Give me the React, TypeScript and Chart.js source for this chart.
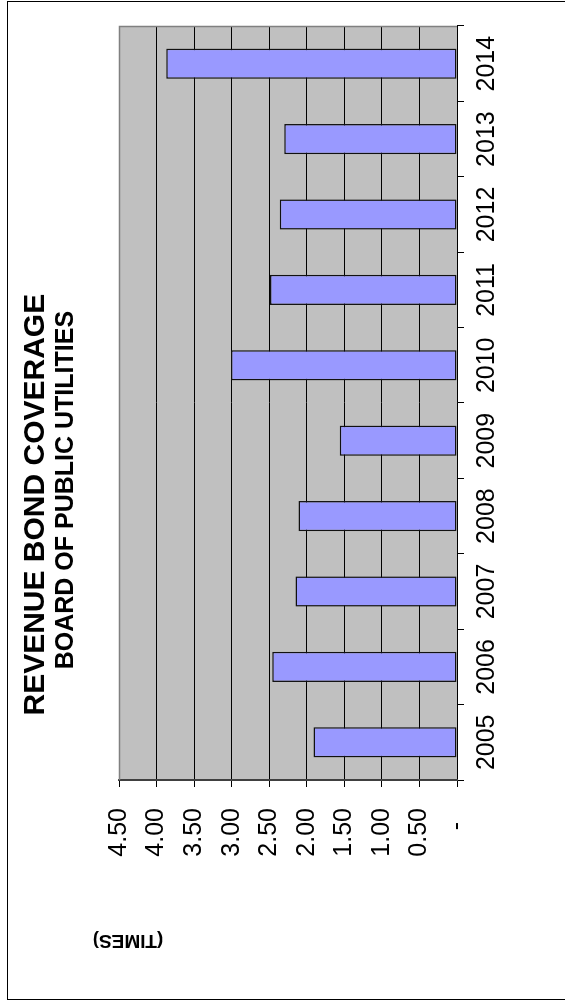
import { useEffect, useRef } from "react";
import { Chart, registerables } from "chart.js";

Chart.register(...registerables);

// Fiscal years on the category axis
const years = ["2005", "2006", "2007", "2008", "2009", "2010", "2011", "2012", "2013", "2014"];
// Revenue bond coverage, in times
const coverage = [1.91, 2.46, 2.15, 2.11, 1.56, 3.01, 2.49, 2.36, 2.3, 3.87];
// Value axis ticks
const coverageTicks = [0, 0.5, 1, 1.5, 2, 2.5, 3, 3.5, 4, 4.5];

const titleText = "REVENUE BOND COVERAGE ";
const subtitleText = "   BOARD OF PUBLIC UTILITIES";
const axisTitleText = "(TIMES)";

const FONT = "'Liberation Sans', Arial, Helvetica, sans-serif";
const W = 1001;
const H = 565;

// Gray plot background plus the gray top/right edges of the plot box
const plotBox = {
  id: "plotBox",
  beforeDraw(chart: any) {
    const { ctx, chartArea: a } = chart;
    ctx.save();
    ctx.fillStyle = "#C0C0C0";
    ctx.fillRect(a.left, a.top, a.right - a.left, a.bottom - a.top);
    ctx.restore();
  },
  beforeDatasetsDraw(chart: any) {
    const { ctx, chartArea: a } = chart;
    ctx.save();
    ctx.strokeStyle = "#808080";
    ctx.lineWidth = 1.5;
    ctx.beginPath();
    ctx.moveTo(a.left, a.top + 0.5);
    ctx.lineTo(a.right - 0.5, a.top + 0.5);
    ctx.lineTo(a.right - 0.5, a.bottom);
    ctx.stroke();
    ctx.restore();
  },
  afterDraw(chart: any) {
    const { ctx } = chart;
    ctx.save();
    // outer frame
    ctx.strokeStyle = "#000";
    ctx.lineWidth = 1;
    ctx.strokeRect(1.5, 7.5, 998, 700);
    // value axis caption
    ctx.translate(61, 128);
    ctx.rotate(-Math.PI / 2);
    ctx.fillStyle = "#000";
    ctx.font = `bold 19px ${FONT}`;
    ctx.textAlign = "center";
    ctx.textBaseline = "middle";
    ctx.fillText(axisTitleText, 0, 0);
    ctx.restore();
  },
};

export default function App() {
  const ref = useRef<HTMLCanvasElement | null>(null);

  useEffect(() => {
    if (!ref.current) return;
    const chart = new Chart(ref.current, {
      type: "bar",
      data: {
        labels: years,
        datasets: [
          {
            data: coverage,
            backgroundColor: "#9999FF",
            borderColor: "#111111",
            borderWidth: 1.5,
            borderSkipped: false,
            barPercentage: 0.4,
            categoryPercentage: 1,
          },
        ],
      },
      options: {
        responsive: false,
        animation: false,
        color: "#000",
        layout: { padding: { left: 26, right: 26, top: 0, bottom: 0 } },
        plugins: {
          legend: { display: false },
          tooltip: { enabled: false },
          title: {
            display: true,
            text: titleText,
            color: "#000",
            font: { family: FONT, size: 30, weight: "bold", lineHeight: 1 },
            padding: { top: 21, bottom: 0 },
          },
          subtitle: {
            display: true,
            text: subtitleText,
            color: "#000",
            font: { family: FONT, size: 25, weight: "bold", lineHeight: 1 },
            padding: { top: 3, bottom: 40 },
          },
        },
        scales: {
          x: {
            type: "category",
            offset: true,
            grid: {
              display: true,
              drawOnChartArea: false,
              drawTicks: true,
              tickLength: 7,
              offset: true,
              color: "#000",
            },
            border: { display: true, color: "#000", width: 1 },
            ticks: {
              color: "#000",
              font: { family: FONT, size: 25 },
              padding: 8,
              maxRotation: 0,
              minRotation: 0,
              autoSkip: false,
            },
            afterFit(scale: any) {
              scale.height = 108;
            },
          },
          y: {
            type: "linear",
            min: 0,
            max: 4.5,
            grid: {
              color: "#000",
              lineWidth: 1,
              drawTicks: true,
              tickLength: 7,
            },
            border: { display: true, color: "#404040", width: 2 },
            ticks: {
              color: "#000",
              font: { family: FONT, size: 25 },
              padding: 21,
              autoSkip: false,
              callback: (v: any) => (Number(v) === 0 ? "-  " : Number(v).toFixed(2)),
            },
            afterBuildTicks(scale: any) {
              scale.ticks = coverageTicks.map((v) => ({ value: v }));
            },
            afterFit(scale: any) {
              scale.width = 195;
            },
          },
        },
      },
      plugins: [plotBox],
    });
    return () => chart.destroy();
  }, []);

  return (
    <div
      style={{
        position: "absolute",
        left: 0,
        top: 0,
        width: H,
        height: W,
        overflow: "hidden",
        background: "#fff",
      }}
    >
      <div
        style={{
          position: "absolute",
          left: 0,
          top: 0,
          width: W,
          height: H,
          transformOrigin: "0 0",
          transform: `translateY(${W}px) rotate(-90deg)`,
        }}
      >
        <canvas ref={ref} width={W} height={H} style={{ display: "block" }} />
      </div>
    </div>
  );
}
